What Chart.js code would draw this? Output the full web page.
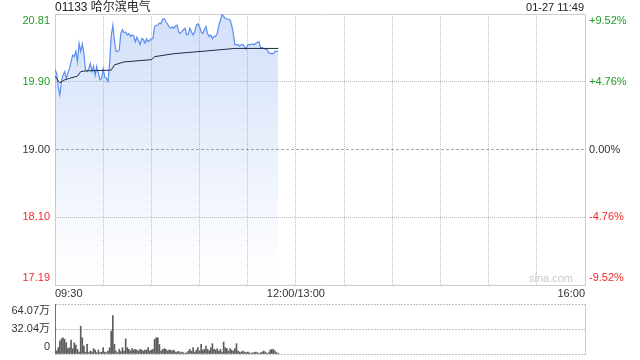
<!DOCTYPE html>
<html>
<head>
<meta charset="utf-8">
<script src="https://cdn.jsdelivr.net/npm/chart.js@4.4.1/dist/chart.umd.min.js"></script>
<style>
  html, body { margin: 0; padding: 0; background: #fff; }
  #wrap { position: relative; width: 640px; height: 360px; }
  #priceChart { position: absolute; left: 0; top: 0; }
  #volChart { position: absolute; left: 0; top: 300px; }
</style>
</head>
<body>
<div id="wrap">
  <canvas id="priceChart" width="640" height="300"></canvas>
  <canvas id="volChart" width="640" height="60"></canvas>
</div>
<script>
const stockTitle = "01133 哈尔滨电气";
const stampText = "01-27 11:49";
const watermark = "sina.com";

// minutes since 09:30, lunch break squeezed out (09:30-12:00, 13:00-16:00)
const timeTicks = [0, 30, 60, 90, 120, 150, 180, 210, 240, 270, 300, 330];
const timeLabelAt = [0, 150, 330];
const timeLabels = ["09:30", "12:00/13:00", "16:00"];

const priceTicks = [17.19, 18.095, 19.00, 19.905, 20.81];
const priceTickLabels = ["17.19", "18.10", "19.00", "19.90", "20.81"];
const pctTicks = [-9.52, -4.76, 0, 4.76, 9.52];
const pctTickLabels = ["-9.52%", "-4.76%", "0.00%", "+4.76%", "+9.52%"];
const volTicks = [0, 32.035, 64.07];
const volTickLabels = ["0", "32.04万", "64.07万"];

const priceMinutes = [
  0, 1, 2, 3, 4, 5, 6, 7, 8, 9, 10, 11, 12, 13, 14, 15, 16, 17, 18, 19,
  20, 21, 22, 23, 24, 25, 26, 27, 28, 29, 30, 31, 32, 33, 34, 35, 36, 37, 38, 39,
  40, 41, 42, 43, 44, 45, 46, 47, 48, 49, 50, 51, 53, 54, 55, 56, 57, 58, 59, 60,
  61, 62, 63, 64, 65, 66, 67, 68, 69, 70, 71, 72, 73, 74, 75, 76, 77, 78, 80, 81,
  82, 83, 84, 85, 86, 87, 88, 89, 90, 91, 92, 93, 94, 95, 96, 97, 98, 99, 100, 101,
  102, 103, 104, 105, 106, 108, 109, 110, 111, 112, 113, 114, 115, 116, 117, 118, 119, 120, 121, 122,
  123, 124, 125, 126, 127, 128, 129, 130, 131, 132, 133, 135, 136, 137, 138, 139
];
const prices = [
  20.07, 20.02, 19.84, 19.73, 19.91, 19.99, 20.04, 19.95, 20.02, 20.08, 20.17, 20.26, 20.24, 20.31, 20.17, 20.42, 20.31, 20.41, 20.28, 20.06,
  20.04, 20.08, 20.15, 20.04, 20.11, 19.99, 20.11, 20.02, 19.93, 19.95, 20.08, 19.97, 19.95, 19.91, 20.15, 20.51, 20.66, 20.46, 20.31, 20.31,
  20.33, 20.55, 20.60, 20.56, 20.57, 20.53, 20.55, 20.51, 20.53, 20.52, 20.44, 20.50, 20.40, 20.48, 20.47, 20.42, 20.48, 20.44, 20.46, 20.48,
  20.48, 20.64, 20.66, 20.66, 20.69, 20.68, 20.74, 20.75, 20.71, 20.68, 20.64, 20.62, 20.64, 20.62, 20.65, 20.66, 20.57, 20.55, 20.60, 20.62,
  20.53, 20.54, 20.62, 20.57, 20.53, 20.57, 20.66, 20.68, 20.64, 20.57, 20.55, 20.60, 20.64, 20.55, 20.51, 20.53, 20.48, 20.51, 20.51, 20.55,
  20.66, 20.73, 20.80, 20.78, 20.75, 20.74, 20.73, 20.66, 20.55, 20.40, 20.40, 20.40, 20.38, 20.40, 20.40, 20.37, 20.34, 20.40, 20.40, 20.40,
  20.41, 20.40, 20.42, 20.43, 20.44, 20.36, 20.36, 20.35, 20.34, 20.34, 20.29, 20.28, 20.28, 20.31, 20.31, 20.31
];

const avgMinutes = [0, 3, 6, 9, 14, 16, 19, 35, 37, 43, 60, 62, 74, 91, 112, 139];
const avgPrices = [19.98, 19.89, 19.93, 19.95, 19.98, 20.04, 20.05, 20.06, 20.13, 20.17, 20.20, 20.24, 20.28, 20.31, 20.35, 20.35];

// volume per minute (万), minute 0 .. 139
const volumes = [
  64.07, 4.0, 8.1, 16.5, 19.5, 20.8, 18.7, 14.4, 6.8, 8.1, 17.8, 6.8, 14.4, 11.5, 5.9, 2.5, 35.6, 20.8, 10.2, 2.5,
  12.3, 1.7, 3.8, 2.5, 6.8, 5.1, 1.7, 5.1, 1.7, 2.5, 8.1, 2.5, 1.7, 3.8, 8.1, 29.3, 49.2, 12.3, 3.8, 1.7,
  5.9, 3.0, 8.1, 3.8, 19.5, 8.1, 5.9, 3.8, 6.8, 5.1, 5.9, 5.1, 3.8, 5.9, 5.1, 3.8, 5.1, 5.1, 8.1, 3.8,
  5.1, 5.9, 18.7, 20.8, 20.8, 12.3, 3.8, 5.9, 6.8, 5.9, 4.0, 5.1, 5.1, 3.8, 5.1, 2.5, 2.5, 3.4, 1.7, 2.5,
  1.7, 0.8, 1.7, 3.8, 5.9, 3.4, 8.1, 2.5, 5.1, 8.1, 3.8, 12.3, 5.1, 5.9, 10.2, 5.9, 4.0, 8.1, 13.2, 5.9,
  5.1, 6.8, 3.8, 5.9, 2.5, 15.3, 8.1, 6.8, 3.8, 6.8, 5.1, 3.8, 6.8, 13.2, 3.8, 2.5, 2.5, 3.8, 2.5, 1.7,
  2.5, 1.7, 0.8, 1.5, 1.7, 2.5, 1.7, 0.8, 1.7, 2.5, 3.8, 2.5, 0.8, 1.7, 5.1, 5.9, 5.9, 3.8, 1.7, 0.8
];

const FONT = '"Liberation Sans", "Noto Sans CJK SC", sans-serif';
const FRAME = "#cdcdcd";
const GRID = "#c2c2c2";
const UP = "#1f9d1f";
const DOWN = "#f42a2a";
const FLAT = "#333333";
const priceColors = [DOWN, DOWN, FLAT, UP, UP];

Chart.defaults.font.family = FONT;
Chart.defaults.font.size = 11;
Chart.defaults.color = FLAT;

// fixed axis width, and no extra room for the two-line edge labels
const fixWidth = w => s => { s.width = w; s.paddingTop = 0; s.paddingBottom = 0; };
const fixHeight = h => s => { s.height = h; };
const setTicks = vals => s => { s.ticks = vals.map(v => ({ value: v })); };
// push the outer labels inside the frame, like the original
const edgeLabels = labels => (v, i, ticks) => {
  if (i === ticks.length - 1) return ["", labels[i]];
  if (i === 0) return [labels[i], ""];
  return labels[i];
};
const isTick = c => c.type === "tick";

const headerPlugin = {
  id: "header",
  afterDraw(chart) {
    const { ctx, chartArea } = chart;
    ctx.save();
    ctx.textBaseline = "middle";
    ctx.fillStyle = "#222";
    ctx.font = "12px " + FONT;
    ctx.textAlign = "left";
    ctx.fillText(stockTitle, chartArea.left, 7.5);
    ctx.font = "11px " + FONT;
    ctx.textAlign = "right";
    ctx.fillText(stampText, chartArea.right - 1, 7.5);
    ctx.fillStyle = "#c9c9c9";
    ctx.fillText(watermark, chartArea.right - 12, chartArea.bottom - 6);
    ctx.restore();
  }
};

new Chart(document.getElementById("priceChart"), {
  type: "line",
  data: {
    datasets: [
      {
        data: avgMinutes.map((m, i) => ({ x: m, y: avgPrices[i] })),
        borderColor: "#1f2b44",
        borderWidth: 1,
        pointRadius: 0,
        fill: false,
        order: 0
      },
      {
        data: priceMinutes.map((m, i) => ({ x: m, y: prices[i] })),
        borderColor: "#5b8ef0",
        borderWidth: 1.2,
        pointRadius: 0,
        fill: "start",
        backgroundColor: c => {
          const a = c.chart.chartArea;
          if (!a) return "rgba(60,120,230,0.15)";
          const g = c.chart.ctx.createLinearGradient(0, a.top, 0, a.bottom);
          g.addColorStop(0, "rgba(60,120,230,0.23)");
          g.addColorStop(0.88, "rgba(60,120,230,0.02)");
          g.addColorStop(1, "rgba(60,120,230,0)");
          return g;
        },
        order: 1
      }
    ]
  },
  options: {
    responsive: false,
    animation: false,
    events: [],
    devicePixelRatio: 1,
    layout: { padding: { top: 14 } },
    plugins: { legend: { display: false }, tooltip: { enabled: false } },
    scales: {
      x: {
        type: "linear",
        min: 0,
        max: 330,
        afterBuildTicks: setTicks(timeTicks),
        afterFit: fixHeight(15),
        ticks: {
          autoSkip: false,
          maxRotation: 0,
          align: "inner",
          padding: 2,
          color: FLAT,
          callback: v => {
            const k = timeLabelAt.indexOf(v);
            return k >= 0 ? timeLabels[k] : "";
          }
        },
        grid: {
          drawTicks: false,
          color: c => (c.index === 0 || c.index === timeTicks.length - 1) ? FRAME : GRID
        },
        border: {
          color: FRAME,
          dash: c => (isTick(c) && c.index > 0 && c.index < timeTicks.length - 1) ? [1, 1] : []
        }
      },
      y: {
        position: "left",
        min: 17.19,
        max: 20.81,
        afterBuildTicks: setTicks(priceTicks),
        afterFit: fixWidth(55),
        ticks: {
          autoSkip: false,
          padding: 5,
          color: c => priceColors[c.index],
          callback: edgeLabels(priceTickLabels)
        },
        grid: {
          drawTicks: false,
          color: c => (c.index === 0 || c.index === 4) ? FRAME : (c.index === 2 ? "#a8a8a8" : GRID)
        },
        border: {
          color: FRAME,
          dash: c => !isTick(c) ? [] : (c.index === 2 ? [3, 2] : ((c.index === 0 || c.index === 4) ? [] : [1, 1]))
        }
      },
      yPct: {
        position: "right",
        min: -9.52,
        max: 9.52,
        afterBuildTicks: setTicks(pctTicks),
        afterFit: fixWidth(55),
        ticks: {
          autoSkip: false,
          padding: 4,
          color: c => priceColors[c.index],
          callback: edgeLabels(pctTickLabels)
        },
        grid: { display: false, drawTicks: false },
        border: { color: FRAME }
      }
    }
  },
  plugins: [headerPlugin]
});

new Chart(document.getElementById("volChart"), {
  type: "bar",
  data: {
    datasets: [{
      data: volumes.map((v, i) => ({ x: i, y: v })),
      backgroundColor: "#5c5c5c",
      barThickness: 1
    }]
  },
  options: {
    responsive: false,
    animation: false,
    events: [],
    devicePixelRatio: 1,
    layout: { padding: { top: 4, bottom: 6 } },
    plugins: { legend: { display: false }, tooltip: { enabled: false } },
    scales: {
      x: { type: "linear", min: 0, max: 330, offset: false, display: false },
      y: {
        position: "left",
        min: 0,
        max: 64.07,
        afterBuildTicks: setTicks(volTicks),
        afterFit: fixWidth(55),
        ticks: {
          autoSkip: false,
          padding: 5,
          color: FLAT,
          callback: edgeLabels(volTickLabels)
        },
        grid: { drawTicks: false, color: GRID },
        border: { color: FRAME, dash: c => isTick(c) ? [2, 1] : [] }
      },
      yR: {
        position: "right",
        min: 0,
        max: 64.07,
        afterFit: fixWidth(55),
        ticks: { display: false },
        grid: { display: false, drawTicks: false },
        border: { color: FRAME }
      }
    }
  }
});
</script>
</body>
</html>
